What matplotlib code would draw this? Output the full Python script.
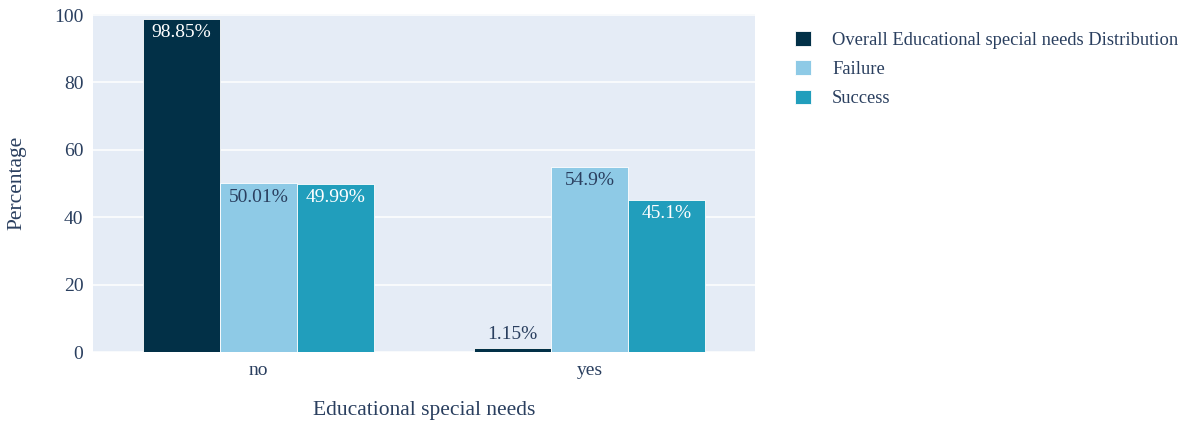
import matplotlib
import matplotlib.pyplot as plt
import numpy as np

matplotlib.use('Agg')

plt.rcParams['font.family'] = ['Liberation Serif', 'DejaVu Serif']

categories = ['no', 'yes']
series_names = ['Overall Educational special needs Distribution', 'Failure', 'Success']
overall = [98.85, 1.15]
failure = [50.01, 54.9]
success = [49.99, 45.1]
labels = [['98.85%', '1.15%'], ['50.01%', '54.9%'], ['49.99%', '45.1%']]

colors = ['#023047', '#8ECAE6', '#219EBC']
label_colors = ['white', '#2a3f5f', 'white']
TEXT = '#2a3f5f'

fig = plt.figure(figsize=(11.85, 4.23), dpi=100, facecolor='white')
ax = fig.add_axes([93 / 1185, 1 - 352 / 423, 662 / 1185, 338 / 423])
ax.set_facecolor('#E5ECF6')

x = np.arange(len(categories))
width = 0.7 / 3
for i, (vals, name) in enumerate(zip([overall, failure, success], series_names)):
    pos = x + (i - 1) * width
    ax.bar(pos, vals, width=width, color=colors[i], edgecolor='white',
           linewidth=0.6, label=name, zorder=3)
    for p, v, txt in zip(pos, vals, labels[i]):
        if v > 8:
            ax.text(p, v - 1.6, txt, ha='center', va='top', fontsize=14,
                    color=label_colors[i], zorder=4)
        else:
            ax.text(p, v + 1.6, txt, ha='center', va='bottom', fontsize=14,
                    color=TEXT, zorder=4)

ax.set_xlim(-0.5, 1.5)
ax.set_ylim(0, 100.3)
ax.set_yticks([0, 20, 40, 60, 80, 100])
ax.set_xticks(x)
ax.set_xticklabels(categories)
ax.grid(axis='y', color='white', linewidth=1.1, zorder=0)
ax.tick_params(length=0, labelsize=14, colors=TEXT, pad=7)
for spine in ax.spines.values():
    spine.set_visible(False)

ax.set_xlabel('Educational special needs', fontsize=15.5, color=TEXT, labelpad=16)
ax.set_ylabel('Percentage', fontsize=15.5, color=TEXT, labelpad=20)

ax.legend(loc='upper left', bbox_to_anchor=(1.044, 0.982), frameon=False,
          fontsize=13.3, labelcolor=TEXT, handlelength=0.85, handleheight=0.85,
          handletextpad=1.15, labelspacing=0.62, borderaxespad=0.2)

fig.savefig('out.png', dpi=100)
